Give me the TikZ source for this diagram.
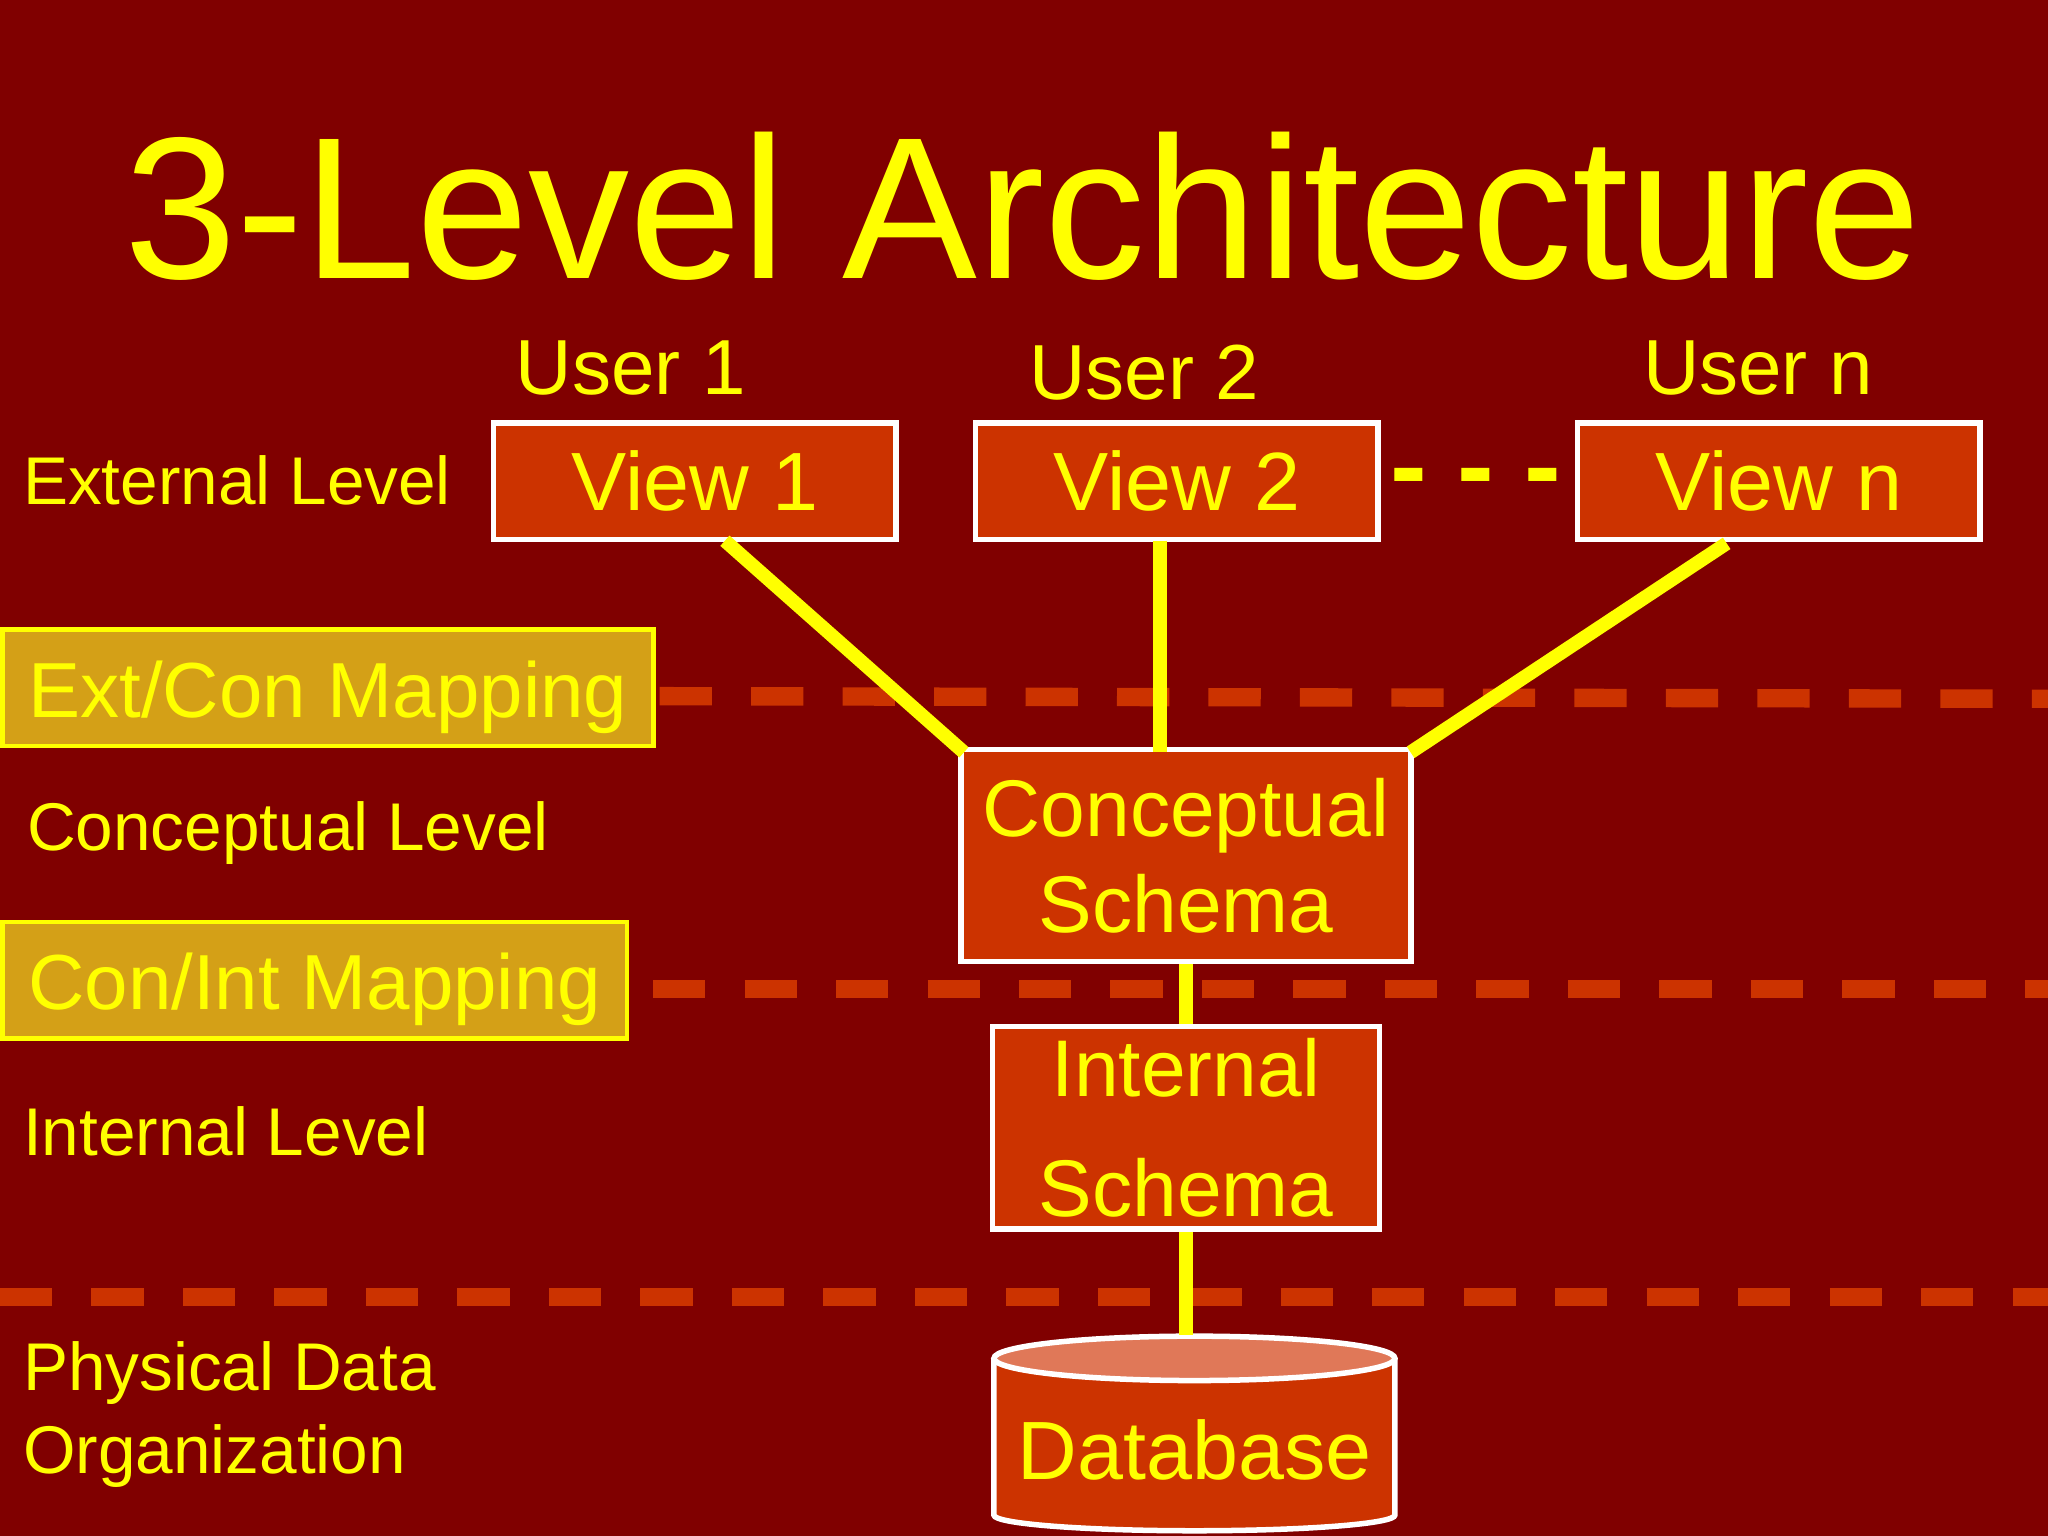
\documentclass[tikz,border=0pt]{standalone}
\usepackage{fontspec}
\setmainfont{Liberation Sans}
\usetikzlibrary{shapes.geometric}
\definecolor{bg}{HTML}{800000}
\definecolor{boxc}{HTML}{CC3300}
\definecolor{yel}{HTML}{FFFF00}
\definecolor{gold}{HTML}{D4A017}
\definecolor{dbtop}{HTML}{E07858}
\tikzset{
  vbox/.style={draw=white, line width=1.2pt, fill=boxc, text=yel, inner sep=0pt, font=\fontsize{18}{20}\selectfont},
  mapbox/.style={draw=yel, line width=1pt, fill=gold, inner sep=0pt},
  maptext/.style={text=yel, inner sep=0pt, anchor=base, font=\fontsize{17}{20}\selectfont},
  lbl/.style={text=yel, anchor=west, inner sep=0pt, font=\fontsize{14.7}{18}\selectfont},
  ulbl/.style={text=yel, inner sep=0pt, font=\fontsize{17}{20}\selectfont},
  conn/.style={draw=yel, line width=3pt},
  sep/.style={draw=boxc, line width=4pt, dash pattern=on 0.4cm off 0.3cm}
}
\begin{document}
\begin{tikzpicture}[x=0.01cm,y=-0.01cm]
\fill[bg] (0,0) rectangle (1568,1176);
\useasboundingbox (0,0) rectangle (1568,1176);
\node[text=yel, font=\fontsize{44}{50}\selectfont, inner sep=0pt] (title) at (783,158) {3-Level Architecture};
% separators
\draw[sep] (505,533) -- (1568,535);
\draw[sep] (500,757) -- (1568,757);
\draw[sep] (0,993) -- (1568,993);
% users
\node[ulbl] (u1) at (483,282) {User 1};
\node[ulbl] (u2) at (876,285) {User 2};
\node[ulbl] (un) at (1346,282) {User n};
% views
\node[vbox, minimum width=3.08cm, minimum height=0.89cm] (v1) at (532,368.5) {View 1};
\node[vbox, minimum width=3.08cm, minimum height=0.89cm] (v2) at (901,368.5) {View 2};
\node[vbox, minimum width=3.08cm, minimum height=0.89cm] (vn) at (1362,368.5) {View n};
\node[text=yel, font=\fontsize{24}{26}\bfseries\selectfont, inner sep=0pt] (dots) at (1130,372) {- - -};
% conceptual
\node[vbox, minimum width=3.44cm, minimum height=1.62cm, align=center, font=\fontsize{17.5}{20.8}\selectfont] (cs) at (908,655) {Conceptual\\Schema};
\node[vbox, minimum width=2.96cm, minimum height=1.55cm, align=center, font=\fontsize{17.5}{26}\selectfont] (is) at (908,863.5) {Internal\\Schema};
% database
\fill[boxc, draw=white, line width=1.2pt] (761,1040) -- (761,1160) arc[start angle=180, end angle=0, x radius=153.5, y radius=12] -- (1068,1040);
\fill[dbtop, draw=white, line width=1.2pt] (914.5,1040) ellipse[x radius=153.5, y radius=17];
\node[text=yel, font=\fontsize{18}{20}\selectfont, inner sep=0pt] (db) at (914.5,1110) {Database};
\coordinate (dbt) at (908,1022);
% mapping boxes
\node[mapbox, minimum width=4.98cm, minimum height=0.89cm] (m1) at (251,526.5) {};
\node[maptext] (m1t) at (251,549) {Ext/Con Mapping};
\node[mapbox, minimum width=4.78cm, minimum height=0.89cm] (m2) at (241,750.5) {};
\node[maptext] (m2t) at (241,773) {Con/Int Mapping};
% level labels
\node[lbl] (l1) at (17,368) {External Level};
\node[lbl] (l2) at (20,638) {Conceptual Level};
\node[lbl] (l3) at (17,866) {Internal Level};
\node[lbl, align=left, font=\fontsize{14.7}{18}\selectfont] (l4) at (17,1083) {Physical Data\\Organization};
% connector ends
\coordinate (a1) at (555,414);
\coordinate (a2) at (888,414);
\coordinate (an) at (1322,416);
\coordinate (b1) at (738,576);
\coordinate (b2) at (888,576);
\coordinate (bn) at (1080,576);
\draw[conn] (a1) -- (b1);
\draw[conn] (a2) -- (b2);
\draw[conn] (an) -- (bn);
\draw[conn] (cs.south) -- (is.north);
\draw[conn] (is.south) -- (dbt);
\end{tikzpicture}
\end{document}
